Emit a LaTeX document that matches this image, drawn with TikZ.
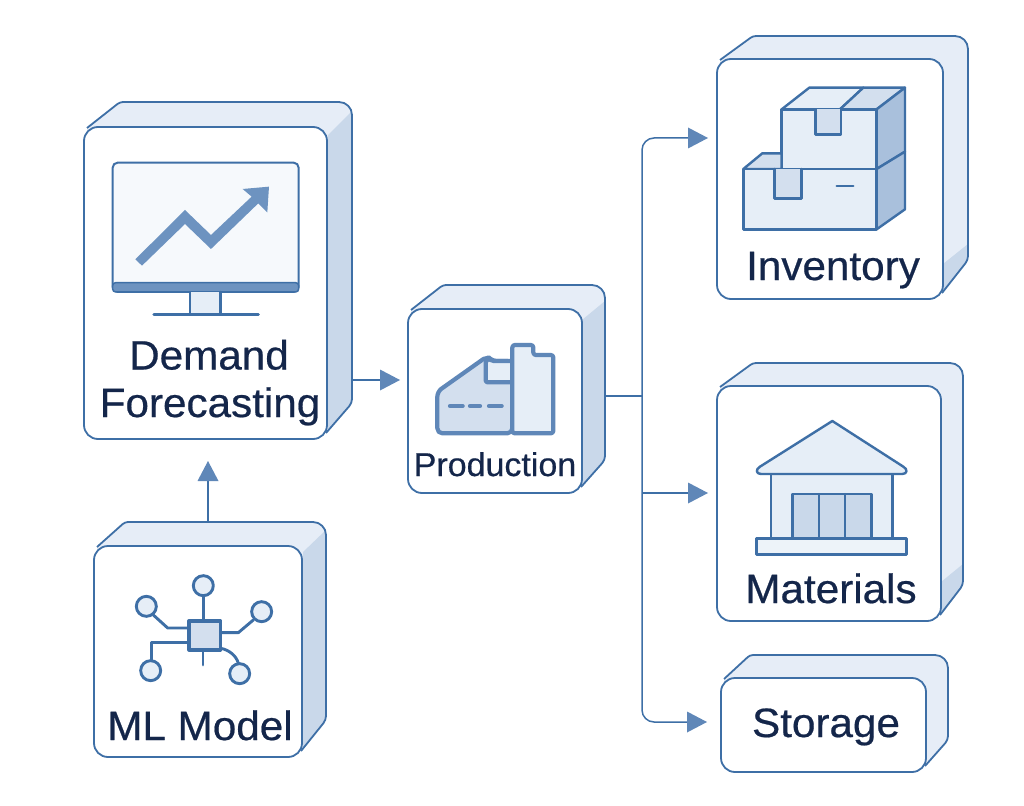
\documentclass[tikz,border=0pt]{standalone}
\usepackage{fontspec}
\setmainfont[FakeStretch=1.03,FakeBold=0.5]{Liberation Sans}
\usetikzlibrary{arrows.meta}
\definecolor{edge}{HTML}{3E6FA6}
\definecolor{topface}{HTML}{E6EDF7}
\definecolor{sideface}{HTML}{C9D8EA}
\definecolor{iconlight}{HTML}{E6EEF7}
\definecolor{iconmid}{HTML}{D3DFEE}
\definecolor{icondark}{HTML}{A9C0DC}
\definecolor{iconbold}{HTML}{6D93C0}
\definecolor{tipblue}{HTML}{5F87B8}
\definecolor{ink}{HTML}{14264A}
\tikzset{
  frontbox/.style={draw=edge,line width=1.8pt,fill=white,rounded corners=14pt,inner sep=0pt,outer sep=0pt},
  hull/.style={inner sep=0pt,outer sep=0pt},
  shell/.style={draw=edge,line width=1.8pt,line join=round},
  conn/.style={draw=edge,line width=1.5pt,-{Triangle[length=20pt,width=21pt,fill=tipblue,line width=0pt]}},
  plainconn/.style={draw=edge,line width=1.5pt},
  icon/.style={draw=edge,line width=2.4pt,line join=round,line cap=round},
  netline/.style={draw=edge,line width=2.9pt,line join=round,line cap=round},
  label/.style={text=ink,anchor=base,inner sep=0pt},
}
% #1 name, #2 l, #3 t, #4 r, #5 b, #6 back right, #7 back top, #8 back left x, #9 y where back right edge ends
\newcommand{\cubebox}[9]{%
  \def\outerp{(#2+3,#3+1) [rounded corners=3pt] -- (#8,#7) [rounded corners=13pt] -- (#6,#7) [rounded corners=4pt] -- (#6,#9) [sharp corners] -- (#4-1,#5-6)}%
  \fill[topface] \outerp -- (#2+3,#5-6) -- cycle;
  \begin{scope}
    \clip \outerp -- (#2+3,#5-6) -- cycle;
    \fill[sideface] \sidepoly;
  \end{scope}
  \draw[shell] \outerp;
  \node[hull,minimum width={(#6-#2)*1pt},minimum height={(#5-#7)*1pt}] (#1) at ({(#2+#6)/2},{(#5+#7)/2}) {};
  \node[frontbox,minimum width={(#4-#2)*1pt},minimum height={(#5-#3)*1pt}] (#1front) at ({(#2+#4)/2},{(#3+#5)/2}) {};
}
\begin{document}
\begin{tikzpicture}[x=1pt,y=-1pt]
\useasboundingbox (0,0) rectangle (1024,805);

% boxes
\def\sidepoly{(328,135) -- (352,111) -- (352,440) -- (328,440) -- cycle}
\cubebox{demand}{84}{127}{327}{439}{352}{102}{120}{403}
\def\sidepoly{(582,320) -- (605,301) -- (605,493) -- (582,493) -- cycle}
\cubebox{prod}{408}{309}{582}{493}{605}{285}{443}{460}
\def\sidepoly{(303,552) -- (326,530) -- (326,757) -- (303,757) -- cycle}
\cubebox{ml}{94}{546}{302}{757}{326}{522}{125}{720}
\def\sidepoly{(943,264) -- (968,244) -- (968,299) -- (943,299) -- cycle}
\cubebox{inv}{717}{59}{943}{299}{968}{36}{753}{260}
\def\sidepoly{(941,582) -- (963,564) -- (963,621) -- (941,621) -- cycle}
\cubebox{mat}{717}{386}{941}{621}{963}{363}{753}{585}
\def\sidepoly{(0,0)}
\cubebox{sto}{721}{678}{926}{772}{948}{655}{750}{740}

% connectors
\coordinate (trunk) at (642,396);
\draw[conn,shorten >=8pt] (demand.east |- 0,380) -- (prod.west |- 0,380);
\draw[conn,shorten >=22pt] (ml.north -| 208,0) -- (demand.south -| 208,0);
\draw[plainconn] (prod.east |- trunk) -- (trunk);
\draw[conn,rounded corners=12pt,shorten >=9pt] (trunk) |- (inv.west |- 0,138);
\draw[conn,shorten >=9pt] (trunk |- 0,493) -- (mat.west |- 0,493);
\draw[conn,rounded corners=12pt,shorten >=14pt] (trunk) |- (sto.west |- 0,722);

% labels
\node[label,font=\fontsize{41}{41}\selectfont] (l1) at (209,369.5) {Demand};
\node[label,font=\fontsize{41}{41}\selectfont] (l2) at (210,417) {Forecasting};
\node[label,font=\fontsize{33}{33}\selectfont] (l3) at (495,476) {Production};
\node[label,font=\fontsize{41}{41}\selectfont] (l4) at (200,740) {ML Model};
\node[label,font=\fontsize{41}{41}\selectfont] (l5) at (833,280) {Inventory};
\node[label,font=\fontsize{41}{41}\selectfont] (l6) at (831,603) {Materials};
\node[label,font=\fontsize{41}{41}\selectfont] (l7) at (826,737) {Storage};

% monitor icon
\begin{scope}[shift={(70,90)},x=0.3333pt,y=-0.3333pt]
  \draw[edge,line width=2pt,fill=iconlight!35,rounded corners=5pt] (128,218) rectangle (686,606);
  \fill[iconbold,draw=edge,line width=1.5pt,rounded corners=3pt] (128,578) -- (686,578) -- (686,606) -- (128,606) -- cycle;
  \draw[icon,fill=iconlight] (360,606) -- (360,674) -- (452,674) -- (452,606);
  \draw[edge,line width=3.2pt,line cap=round] (252,674) -- (565,674);
  \fill[iconbold] (196,508) -- (345,360) -- (423,435) -- (545,320) -- (518,297) -- (597,290) -- (592,367) -- (565,340) -- (423,477) -- (345,402) -- (216,527) -- cycle;
\end{scope}

% boxes icon
\begin{scope}[shift={(700,25)},x=0.3333pt,y=-0.3333pt]
  \draw[icon,fill=iconlight] (245,253) -- (328,188) -- (490,188) -- (420,253) -- cycle;
  \draw[icon,fill=iconmid] (420,253) -- (490,188) -- (615,188) -- (530,253) -- cycle;
  \draw[icon,fill=icondark] (530,253) -- (615,188) -- (615,380) -- (530,432) -- cycle;
  \draw[icon,fill=iconlight] (245,253) rectangle (530,432);
  \draw[icon,fill=iconmid] (347,253) -- (347,328) -- (423,328) -- (423,253);
  \draw[icon,fill=iconmid] (130,432) -- (187,385) -- (245,385) -- (245,432) -- cycle;
  \draw[icon,fill=icondark] (530,432) -- (615,380) -- (615,553) -- (530,613) -- cycle;
  \draw[icon,fill=iconlight] (130,432) rectangle (530,613);
  \draw[icon,fill=iconmid] (223,432) -- (223,520) -- (305,520) -- (305,432);
  \draw[icon] (410,483) -- (460,483);
\end{scope}

% factory icon
\begin{scope}[shift={(395,275)},x=0.3333pt,y=-0.3333pt]
  \tikzset{fac/.style={draw=tipblue,line width=4.2pt,line join=round,line cap=round}}
  \draw[fac,fill=iconmid,rounded corners=5pt] (127,475) -- (127,350) -- (278,243) -- (290,258) -- (352,258) -- (352,475) -- cycle;
  \draw[fac,fill=iconlight,rounded corners=2pt] (272,258) -- (272,322) -- (352,322) -- (352,258) -- (290,258) -- (280,250) -- cycle;
  \draw[fac,fill=iconlight,rounded corners=2.5pt] (352,475) -- (352,210) -- (415,210) -- (415,240) -- (475,240) -- (475,475) -- cycle;
  \draw[fac] (165,393) -- (203,393);
  \draw[fac] (225,393) -- (255,393);
  \draw[fac] (282,393) -- (320,393);
\end{scope}

% network icon
\begin{scope}[shift={(85,510)},x=0.3333pt,y=-0.3333pt]
  \draw[netline] (355,257) -- (355,333);
  \draw[netline] (205,315) -- (248,354) -- (312,354);
  \draw[netline] (505,330) -- (460,368) -- (407,368);
  \draw[netline] (200,450) -- (200,398) -- (312,398);
  \draw[netline] (407,415) .. controls (435,420) and (455,440) .. (460,460);
  \draw[netline] (354,420) -- (354,465);
  \draw[netline,line width=3.2pt,fill=iconmid] (312,333) rectangle (407,420);
  \draw[netline,fill=iconlight] (355,227) circle[radius=10pt];
  \draw[netline,fill=iconlight] (184,289) circle[radius=10pt];
  \draw[netline,fill=iconlight] (530,305) circle[radius=10pt];
  \draw[netline,fill=iconlight] (197,482) circle[radius=10pt];
  \draw[netline,fill=iconlight] (464,491) circle[radius=10pt];
\end{scope}

% warehouse icon
\begin{scope}[shift={(700,355)},x=0.3333pt,y=-0.3333pt]
  \fill[iconlight] (213,357) rectangle (578,550);
  \draw[icon] (213,357) -- (213,550);
  \draw[icon] (578,357) -- (578,550);
  \draw[icon,fill=iconlight] (397,198) -- (610,335) .. controls (624,343) and (622,357) .. (607,357) -- (183,357) .. controls (168,357) and (166,343) .. (180,335) -- cycle;
  \draw[icon,fill=sideface] (278,550) -- (278,417) -- (515,417) -- (515,550);
  \draw[icon] (357,417) -- (357,550);
  \draw[icon] (435,417) -- (435,550);
  \draw[icon,fill=iconlight!70] (170,550) rectangle (620,598);
\end{scope}
\end{tikzpicture}
\end{document}
